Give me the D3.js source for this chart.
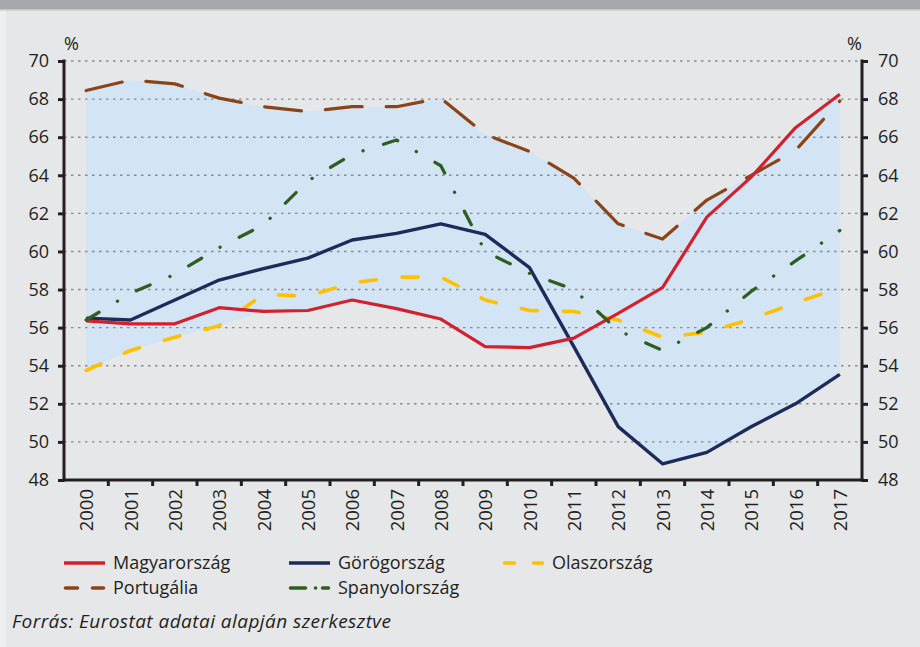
<!DOCTYPE html>
<html>
<head>
<meta charset="utf-8">
<script src="https://cdn.jsdelivr.net/npm/d3@7/dist/d3.min.js"></script>
<style>
  html, body { margin: 0; padding: 0; background: #e6e7e9; }
  svg { display: block; font-family: "Open Sans", sans-serif; }
</style>
</head>
<body>
<svg id="chart" width="920" height="647"></svg>
<script>
const years = ["2000","2001","2002","2003","2004","2005","2006","2007","2008","2009","2010","2011","2012","2013","2014","2015","2016","2017"];
const magyarorszag = [56.35, 56.2, 56.2, 57.05, 56.85, 56.9, 57.45, 57.0, 56.45, 55.0, 54.95, 55.45, 56.75, 58.1, 61.8, 63.9, 66.5, 68.25];
const gorogorszag = [56.5, 56.4, 57.45, 58.5, 59.1, 59.65, 60.6, 60.95, 61.45, 60.9, 59.15, 55.0, 50.8, 48.85, 49.45, 50.8, 52.0, 53.55];
const olaszorszag = [53.75, 54.8, 55.5, 56.1, 57.75, 57.65, 58.35, 58.65, 58.65, 57.45, 56.9, 56.85, 56.4, 55.5, 55.75, 56.45, 57.3, 58.1];
const portugalia = [68.45, 69.0, 68.8, 68.05, 67.6, 67.35, 67.6, 67.6, 68.05, 66.15, 65.25, 63.85, 61.45, 60.65, 62.7, 64.0, 65.3, 67.9];
const spanyolorszag = [56.4, 57.8, 58.8, 60.2, 61.4, 63.7, 65.1, 65.85, 64.5, 60.0, 58.85, 58.0, 55.85, 54.8, 56.0, 57.9, 59.5, 61.1];
const yTicks = [48, 50, 52, 54, 56, 58, 60, 62, 64, 66, 68, 70];
const seriesNames = ["Magyarország", "Görögország", "Olaszország", "Portugália", "Spanyolország"];
const sourceText = "Forrás: Eurostat adatai alapján szerkesztve";

(function () {
const svg = d3.select("#chart");
const W = 920, H = 647;
const pLeft = 64, pRight = 862, pTop = 61, pBottom = 480;
const ink = "#231f20";

// background
svg.append("rect").attr("width", W).attr("height", H).attr("fill", "#e6e7e9");
svg.append("rect").attr("x", 0).attr("y", 10).attr("width", 6).attr("height", H - 10).attr("fill", "#eeeff0");
svg.append("rect").attr("width", W).attr("height", 9).attr("fill", "#a7a8ab");
svg.append("rect").attr("y", 9).attr("width", W).attr("height", 1.5).attr("fill", "#c4c5c8");

const x = d3.scaleBand().domain(years).range([pLeft, pRight]).padding(0);
const y = d3.scaleLinear().domain([48, 70]).range([pBottom, pTop]);
const cx = d => x(d) + x.bandwidth() / 2;

const series = [
  { name: seriesNames[0], values: magyarorszag, color: "#d2202c", dash: null, width: 3.2 },
  { name: seriesNames[1], values: gorogorszag, color: "#1d2b5b", dash: null, width: 3.4 },
  { name: seriesNames[2], values: olaszorszag, color: "#ffc000", dash: "16,26", width: 3.6 },
  { name: seriesNames[3], values: portugalia, color: "#8b4418", dash: "37,24", width: 3.2 },
  { name: seriesNames[4], values: spanyolorszag, color: "#2f5d22", dash: "15,21.5,0.1,21.5", width: 3.3 }
];

// min-max band
const band = years.map((yr, i) => {
  const vals = series.map(s => s.values[i]);
  return { yr, lo: d3.min(vals), hi: d3.max(vals) };
});
svg.append("path")
  .datum(band)
  .attr("fill", "#d3e5f4")
  .attr("d", d3.area().x(d => cx(d.yr)).y0(d => y(d.lo)).y1(d => y(d.hi)));

// grid
svg.append("g").selectAll("line").data(yTicks.filter(t => t > 48)).join("line")
  .attr("x1", pLeft).attr("x2", pRight)
  .attr("y1", d => y(d)).attr("y2", d => y(d))
  .attr("stroke", "#8a8a8a").attr("stroke-width", 1.4)
  .attr("stroke-dasharray", "2.5,4.5");

// lines
const lineGen = d3.line().x((d, i) => cx(years[i])).y(d => y(d));
const drawOrder = [2, 1, 3, 0, 4];
drawOrder.forEach(k => {
  const s = series[k];
  svg.append("path")
    .datum(s.values)
    .attr("fill", "none")
    .attr("stroke", s.color)
    .attr("stroke-width", s.width)
    .attr("stroke-linejoin", "round")
    .attr("stroke-linecap", s.dash ? "round" : "butt")
    .attr("stroke-dasharray", s.dash)
    .attr("d", lineGen);
});

// axes
const leftAxis = svg.append("g").attr("transform", `translate(${pLeft},0)`)
  .call(d3.axisLeft(y).tickValues(yTicks).tickSize(6).tickPadding(9));
const rightAxis = svg.append("g").attr("transform", `translate(${pRight},0)`)
  .call(d3.axisRight(y).tickValues(yTicks).tickSize(6).tickPadding(10));
[leftAxis, rightAxis].forEach(g => {
  g.select(".domain").attr("stroke", ink).attr("stroke-width", 3);
  g.selectAll(".tick line").attr("stroke", ink).attr("stroke-width", 3);
  g.selectAll(".tick text").attr("fill", ink).attr("font-size", 18).attr("font-family", "Open Sans, sans-serif");
});
leftAxis.select(".domain").attr("d", `M0,${pTop - 1.5}V${pBottom + 1.5}`);
rightAxis.select(".domain").attr("d", `M0,${pTop - 1.5}V${pBottom + 1.5}`);

// x axis
const xg = svg.append("g");
xg.append("line").attr("x1", pLeft - 1.5).attr("x2", pRight + 1.5).attr("y1", pBottom).attr("y2", pBottom)
  .attr("stroke", ink).attr("stroke-width", 3);
xg.selectAll("line.xt").data(years.slice(1)).join("line").attr("class", "xt")
  .attr("x1", d => x(d)).attr("x2", d => x(d))
  .attr("y1", pBottom).attr("y2", pBottom + 6)
  .attr("stroke", ink).attr("stroke-width", 3);
xg.selectAll("text").data(years).join("text")
  .attr("transform", d => `translate(${cx(d) + 0.5},${pBottom + 9}) rotate(-90)`)
  .attr("text-anchor", "end")
  .attr("dy", "0.36em")
  .attr("fill", ink).attr("font-size", 18.5)
  .text(d => d);

// % labels
svg.append("text").attr("x", 64).attr("y", 50).attr("fill", ink).attr("font-size", 18).text("%");
svg.append("text").attr("x", 847).attr("y", 50).attr("fill", ink).attr("font-size", 18).text("%");

// legend
const legendPos = [
  { x: 64, y: 563 }, { x: 289, y: 563 }, { x: 503, y: 563 },
  { x: 64, y: 588 }, { x: 289, y: 588 }
];
const legendDash = [null, null, "10,19", "12,15", "15,10,0.1,7,15"];
const lg = svg.append("g");
series.forEach((s, i) => {
  const p = legendPos[i];
  lg.append("line")
    .attr("x1", p.x + (s.dash ? 1.5 : 0)).attr("x2", p.x + 41 - (s.dash ? 1.5 : 0))
    .attr("y1", p.y).attr("y2", p.y)
    .attr("stroke", s.color).attr("stroke-width", 3.6)
    .attr("stroke-linecap", s.dash ? "round" : "butt")
    .attr("stroke-dasharray", legendDash[i]);
  lg.append("text")
    .attr("x", p.x + 49).attr("y", p.y).attr("dy", "0.35em")
    .attr("fill", ink).attr("font-size", 18)
    .text(s.name);
});

// source
svg.append("text").attr("x", 12).attr("y", 628)
  .attr("fill", ink).attr("font-size", 19).attr("font-style", "italic")
  .attr("letter-spacing", 0.45)
  .text(sourceText);
})();
</script>
</body>
</html>
